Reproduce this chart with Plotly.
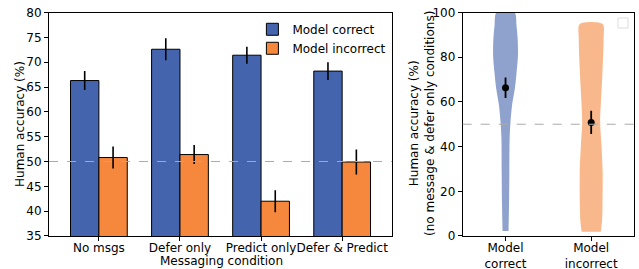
import plotly.graph_objects as go

# ---- data ----
conditions = ["No msgs", "Defer only", "Predict only", "Defer & Predict"]
correct_acc = [66.3, 72.6, 71.4, 68.2]
correct_err = [1.9, 2.2, 1.7, 1.8]
incorrect_acc = [50.8, 51.4, 42.0, 49.9]
incorrect_err = [2.2, 1.9, 2.2, 2.5]

violin_labels = ["Model<br>correct", "Model<br>incorrect"]
# violin outlines (accuracy level, half width)
v_correct_y = [2.2, 13.9, 28.8, 43.7, 51.0, 58.6, 66.0, 73.5, 80.9, 88.0, 94.3, 100.0]
v_correct_hw = [0.035, 0.041, 0.045, 0.048, 0.058, 0.077, 0.109, 0.130, 0.145, 0.142, 0.128, 0.106]
v_incorrect_y = [1.9, 7.0, 13.9, 28.8, 40.7, 51.0, 61.5, 73.5, 88.4, 94.8]
v_incorrect_hw = [0.112, 0.127, 0.132, 0.134, 0.120, 0.105, 0.116, 0.132, 0.145, 0.135]
violin_mean = [66.3, 50.8]
violin_err = [4.6, 5.2]

BLUE = "#4464ad"
ORANGE = "#f5883d"
VBLUE = "rgba(68,100,173,0.6)"
VORANGE = "rgba(245,136,61,0.6)"
FONT = "DejaVu Sans"
FS = 12
W, H = 639, 269

fig = go.Figure()
xs = list(range(len(conditions)))
fig.add_trace(go.Bar(
    x=xs, y=correct_acc, name="Model correct", offset=-0.35, width=0.35,
    marker=dict(color=BLUE, line=dict(color="black", width=1)),
    error_y=dict(type="data", array=correct_err, color="black", thickness=1.6, width=0),
    xaxis="x", yaxis="y"))
fig.add_trace(go.Bar(
    x=xs, y=incorrect_acc, name="Model incorrect", offset=0, width=0.35,
    marker=dict(color=ORANGE, line=dict(color="black", width=1)),
    error_y=dict(type="data", array=incorrect_err, color="black", thickness=1.6, width=0),
    xaxis="x", yaxis="y"))

def outline(pos, ys, hws):
    x = [pos + h for h in hws] + [pos - h for h in reversed(hws)]
    y = list(ys) + list(reversed(ys))
    return x, y

for i, (ys, hws, col) in enumerate([(v_correct_y, v_correct_hw, VBLUE),
                                     (v_incorrect_y, v_incorrect_hw, VORANGE)]):
    vx, vy = outline(i + 1, ys, hws)
    fig.add_trace(go.Scatter(x=vx, y=vy, fill="toself", fillcolor=col, mode="lines",
                             line=dict(width=0, shape="spline", smoothing=0.8), showlegend=False,
                             hoverinfo="skip", xaxis="x2", yaxis="y2"))

fig.add_trace(go.Scatter(
    x=[1, 2], y=violin_mean, mode="markers", marker=dict(color="black", size=7),
    error_y=dict(type="data", array=violin_err, color="black", thickness=1.8, width=0),
    showlegend=False, xaxis="x2", yaxis="y2"))

ax_common = dict(showline=True, linecolor="black", linewidth=1, mirror=True, ticks="outside",
                 ticklen=4, tickcolor="black", showgrid=False, zeroline=False, automargin=False,
                 tickangle=0, tickfont=dict(family=FONT, size=FS, color="black"))

title_font = dict(family=FONT, size=FS, color="black")
fig.update_layout(
    width=W, height=H, margin=dict(l=0, r=0, t=0, b=0, autoexpand=False),
    plot_bgcolor="white", paper_bgcolor="white",
    font=dict(family=FONT, size=FS, color="black"),
    xaxis=dict(domain=[0.0767, 0.6135], range=[-0.615, 3.615], tickvals=xs, ticktext=conditions,
               anchor="y", ticklabelstandoff=-3, **ax_common),
    yaxis=dict(domain=[0.1227, 0.9535], range=[35, 80], dtick=5, anchor="x", **ax_common),
    xaxis2=dict(domain=[0.7241, 0.9922], range=[0.5, 2.5], tickvals=[1, 2], ticktext=violin_labels,
                anchor="y2", ticklabelstandoff=-3, **ax_common),
    yaxis2=dict(domain=[0.1227, 0.9535], range=[0, 100], dtick=20, anchor="x2", **ax_common),
    legend=dict(x=0.395, y=0.945, xanchor="left", yanchor="top", bgcolor="rgba(255,255,255,0)",
                font=dict(family=FONT, size=FS), itemwidth=30, tracegroupgap=2),
    annotations=[
        dict(text="Messaging condition", xref="paper", yref="paper", x=221 / W, y=1 - 261 / H,
             xanchor="center", yanchor="middle", showarrow=False, font=title_font),
        dict(text="Human accuracy (%)", xref="paper", yref="paper", x=20 / W, y=1 - 124 / H,
             xanchor="center", yanchor="middle", textangle=-90, showarrow=False, font=title_font),
        dict(text="Human accuracy (%)<br>(no message & defer only conditions)", xref="paper", yref="paper",
             x=422 / W, y=1 - 124 / H, xanchor="center", yanchor="middle", textangle=-90,
             showarrow=False, font=title_font),
    ],
    shapes=[
        dict(type="line", xref="x domain", yref="y", x0=0, x1=1, y0=50, y1=50,
             line=dict(color="#aaaaaa", width=1, dash="dash"), layer="above"),
        dict(type="line", xref="x2 domain", yref="y2", x0=0, x1=1, y0=50, y1=50,
             line=dict(color="#aaaaaa", width=1, dash="dash"), layer="above"),
        dict(type="rect", xref="paper", yref="paper", x0=618 / W, x1=628 / W, y0=1 - 28 / H, y1=1 - 18 / H,
             line=dict(color="#dddddd", width=1), fillcolor="white"),
    ],
)
fig.write_html("out.html", config={"displayModeBar": False},
               post_script="document.body.style.margin='0';document.body.style.overflow='hidden';")
